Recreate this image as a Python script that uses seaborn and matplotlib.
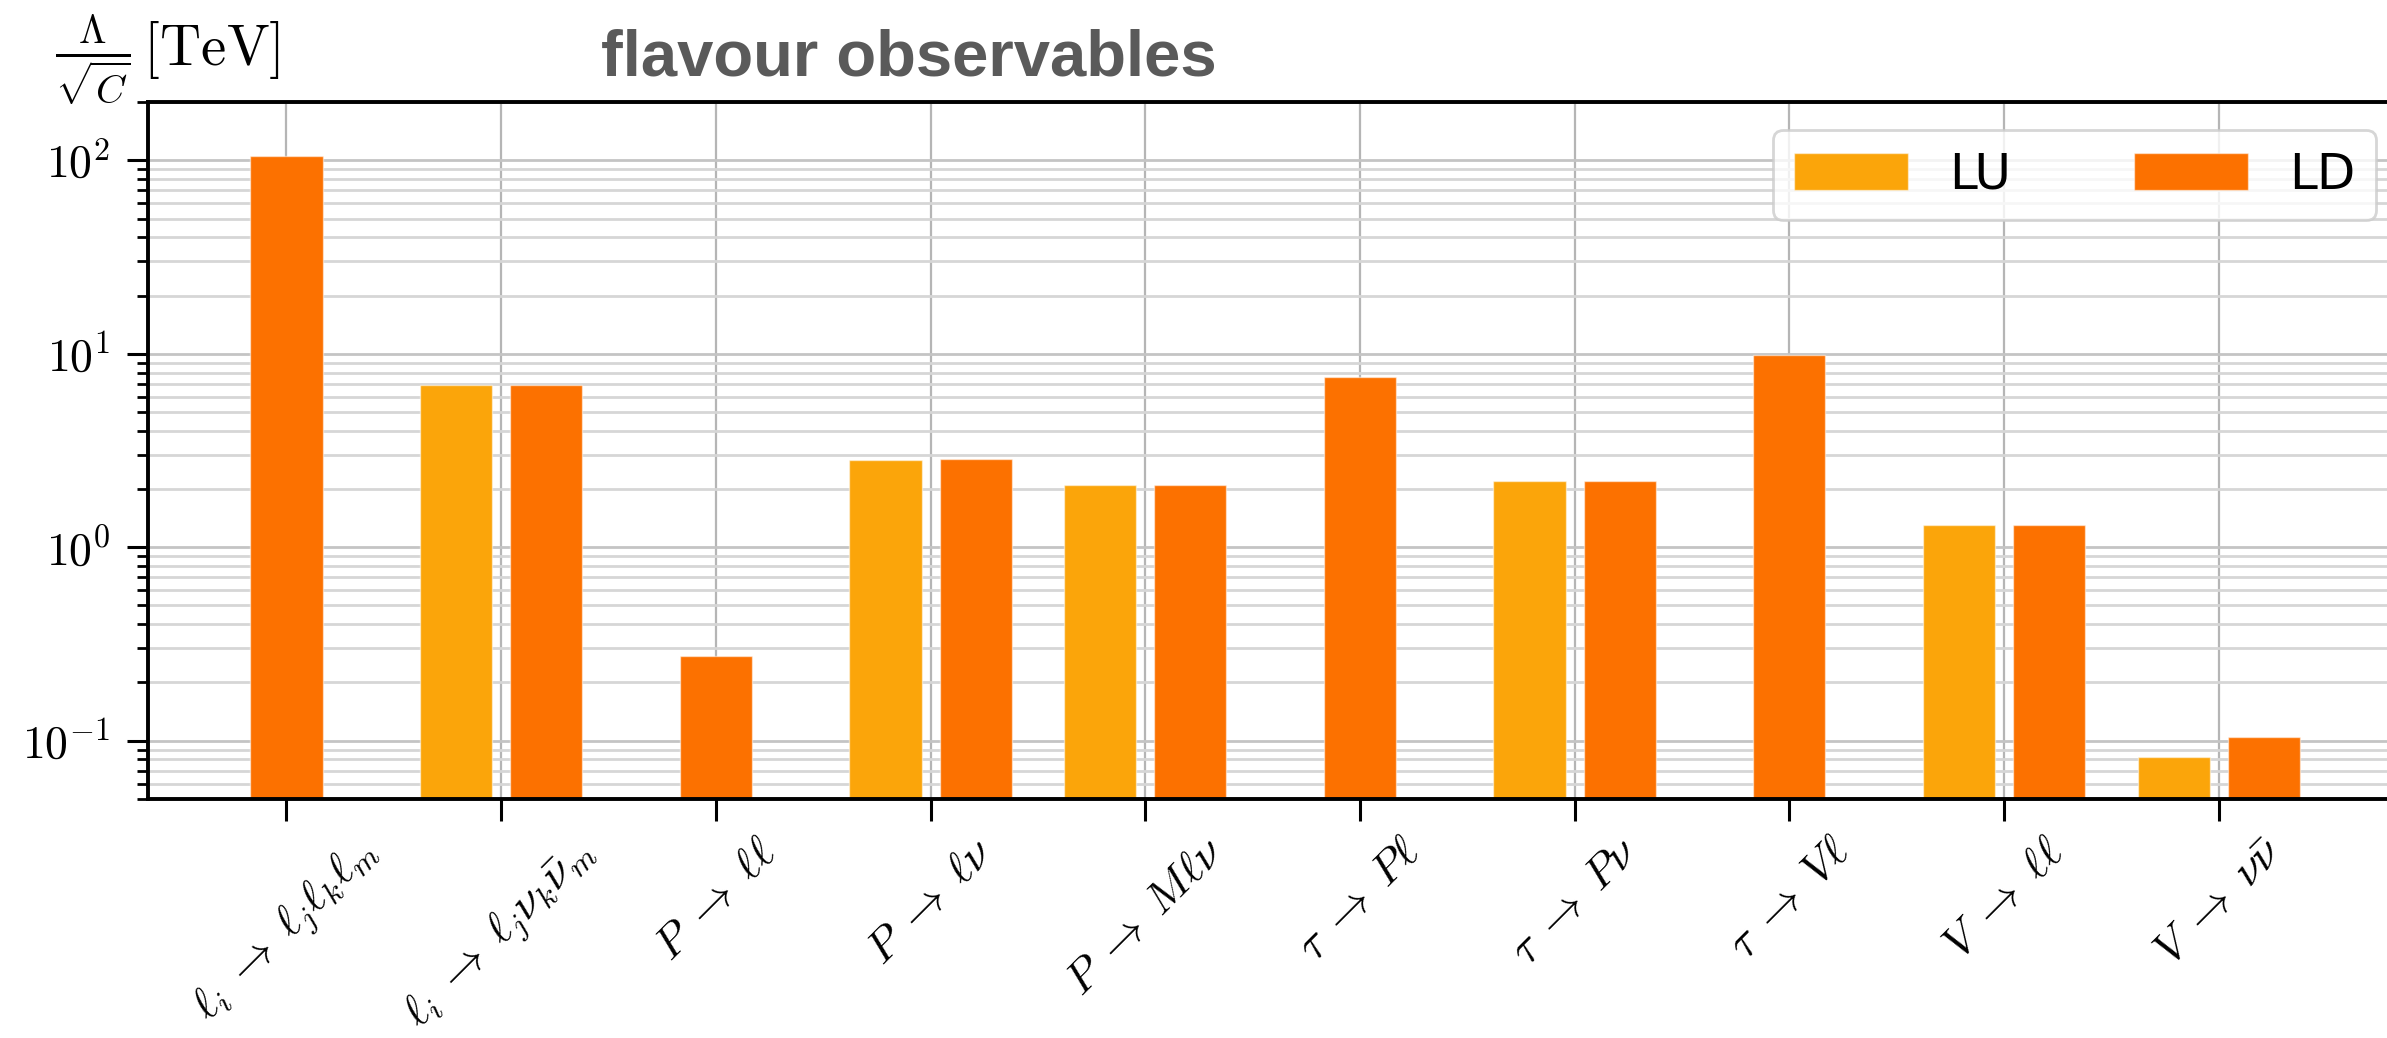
import numpy as np
import pandas as pd
import matplotlib
matplotlib.use("Agg")
import matplotlib.pyplot as plt
import matplotlib.ticker as mticker
import seaborn as sns

# Observable classes (x axis) and lower bounds on Lambda/sqrt(C) in TeV
observables = [
    r"$\ell_i \;\to\; \ell_j \ell_k \ell_m$",
    r"$\ell_i \;\to\; \ell_j \nu_k \bar{\nu}_m$",
    r"$P \;\to\; \ell\ell$",
    r"$P \;\to\; \ell\nu$",
    r"$P \;\to\; M\ell\nu$",
    r"$\tau \;\to\; P\ell$",
    r"$\tau \;\to\; P\nu$",
    r"$\tau \;\to\; V\ell$",
    r"$V \;\to\; \ell\ell$",
    r"$V \;\to\; \nu\bar{\nu}$",
]
lu_values = [np.nan, 6.9, np.nan, 2.84, 2.10, np.nan, 2.20, np.nan, 1.30, 0.0824]
ld_values = [105.0, 6.9, 0.274, 2.86, 2.10, 7.6, 2.20, 9.9, 1.31, 0.105]
models = ["LU", "LD"]
colors = {"LU": "#fba50a", "LD": "#fc7100"}

# Long table; a lone bar sits on its tick, a pair is split around it
rows = []
for i, name in enumerate(observables):
    vals = {"LU": lu_values[i], "LD": ld_values[i]}
    present = [m for m in models if not np.isnan(vals[m])]
    for m in present:
        if len(present) == 2:
            shift = -0.21 if m == "LU" else 0.21
        else:
            shift = 0.0
        rows.append({"observable": name, "model": m, "pos": i + shift, "value": vals[m]})
df = pd.DataFrame(rows)

plt.rcParams["mathtext.fontset"] = "cm"
plt.rcParams["font.family"] = ["DejaVu Sans"]
plt.rcParams["axes.axisbelow"] = True

fig = plt.figure(figsize=(23.87, 10.38), dpi=100)
ax = fig.add_axes([0.062, 0.2303, 0.948, 0.6714])

sns.barplot(
    data=df, x="pos", y="value", hue="model", hue_order=models,
    palette=colors, saturation=1, native_scale=True, dodge=False, width=0.8,
    edgecolor=(1, 1, 1, 0.5), linewidth=1.0, ax=ax,
)

ax.set_yscale("log")
ax.set_ylim(0.05, 200)
ax.set_xlim(-0.645, 9.895)
ax.yaxis.set_major_formatter(
    mticker.FuncFormatter(lambda v, _: rf"$10^{{{int(round(np.log10(v)))}}}$"))

ax.set_xticks(range(len(observables)))
ax.set_xticklabels(observables, rotation=45, ha="center", fontsize=33)
ax.set_xlabel("")

# grid: vertical lines at categories, horizontal at all decades and sub-decades
ax.grid(True, axis="x", which="major", color="#b5b5b5", linewidth=1.6)
ax.grid(True, axis="y", which="major", color="#c4c4c4", linewidth=2.0)
ax.grid(True, axis="y", which="minor", color="#d6d6d6", linewidth=2.0)

for side in ["left", "top", "bottom"]:
    ax.spines[side].set_linewidth(2.8)
    ax.spines[side].set_color("black")
ax.spines["right"].set_visible(False)

ax.tick_params(axis="y", which="major", length=15, width=2.2, labelsize=33, pad=12)
ax.tick_params(axis="y", which="minor", length=8, width=2.0)
ax.tick_params(axis="x", which="major", length=16, width=2.2, pad=6)

ax.set_ylabel(r"$\frac{\Lambda}{\sqrt{C}}\,[\mathrm{TeV}]$", rotation=0,
              fontsize=41, ha="left", va="bottom")
ax.yaxis.set_label_coords(-0.041, 0.993)

fig.text(0.2518, 0.927, "flavour observables", fontsize=47, fontweight="bold",
         color="#5a5a5a", family="Liberation Sans", ha="left", va="baseline")

handles, labels = ax.get_legend_handles_labels()
leg = ax.legend(
    handles, labels, ncol=2, loc="upper right",
    bbox_to_anchor=(0.9954, 0.8748), bbox_transform=fig.transFigure,
    borderaxespad=0, fontsize=36, handlelength=2.28, handleheight=0.78,
    handletextpad=0.82, columnspacing=2.45, borderpad=0.42,
    frameon=True, fancybox=True, framealpha=0.8, edgecolor="#cccccc",
)
leg.get_frame().set_linewidth(2.0)

fig.savefig("out.png", dpi=100)
